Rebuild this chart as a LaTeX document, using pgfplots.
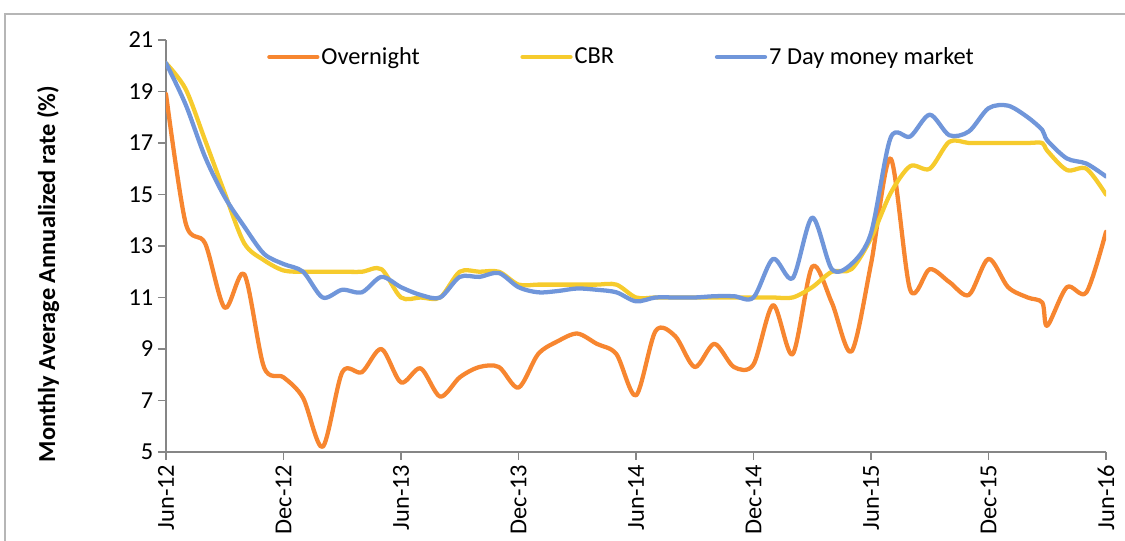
\documentclass[border=0pt]{standalone}
\usepackage{fontspec}
\setmainfont{Carlito}
\usepackage{pgfplots}
\pgfplotsset{compat=1.18}
\definecolor{onight}{RGB}{247,134,48}
\definecolor{cbr}{RGB}{246,203,45}
\definecolor{mm}{RGB}{112,150,218}
\definecolor{axgray}{RGB}{134,134,134}

% month index: 0 = Jun-12 ... 48 = Jun-16
\pgfplotstableread{
x y
0 18.9
1 13.9
2 13.1
3 10.6
4 11.9
5 8.3
6 7.9
7 7.1
8 5.2
9 8.1
10 8.1
11 9.0
12 7.7
13 8.25
14 7.15
15 7.9
16 8.3
17 8.3
18 7.5
19 8.8
20 9.3
21 9.6
22 9.2
23 8.8
24 7.2
25 9.7
26 9.5
27 8.3
28 9.2
29 8.3
30 8.4
31 10.7
32 8.8
33 12.2
34 10.8
35 8.9
36 12.3
37 16.4
38 11.3
39 12.1
40 11.6
41 11.1
42 12.5
43 11.4
44 11.0
44.75 10.8
45 9.9
46 11.4
47 11.2
48 13.55
}\overnight

\pgfplotstableread{
x y
0 20.1
1 19.1
2 17.1
3 15.05
4 13.1
5 12.45
6 12.05
7 12.0
8 12.0
9 12.0
10 12.0
11 12.1
12 11.0
13 11.0
14 11.0
15 12.0
16 12.0
17 12.0
18 11.5
19 11.5
20 11.5
21 11.5
22 11.5
23 11.5
24 11.0
25 11.0
26 11.0
27 11.0
28 11.0
29 11.0
30 11.0
31 11.0
32 11.0
33 11.4
34 12.0
35 12.1
36 13.3
37 15.05
38 16.1
39 16.0
40 17.05
41 17.0
42 17.0
43 17.0
44 17.0
44.75 17.0
45 16.7
46 15.95
47 16.0
48 15.0
}\cbrtab

\pgfplotstableread{
x y
0 20.1
1 18.5
2 16.45
3 14.9
4 13.75
5 12.7
6 12.3
7 12.0
8 11.0
9 11.3
10 11.2
11 11.8
12 11.4
13 11.1
14 11.0
15 11.8
16 11.8
17 11.95
18 11.4
19 11.2
20 11.25
21 11.35
22 11.3
23 11.2
24 10.85
25 11.0
26 11.0
27 11.0
28 11.05
29 11.05
30 11.0
31 12.5
32 11.75
33 14.1
34 12.1
35 12.3
36 13.5
37 17.2
38 17.25
39 18.1
40 17.3
41 17.45
42 18.35
43 18.45
44 18.0
44.75 17.5
45 17.1
46 16.4
47 16.2
48 15.7
}\mmtab

\begin{document}
\begin{tikzpicture}[x=1pt,y=1pt]
\useasboundingbox (-124.5,-66.75) rectangle (719.25,339);
\clip (-124.5,-66.75) rectangle (719.25,339);
\draw[axgray!60, line width=1pt] (-120.75,-120) rectangle (780,328.5);
\begin{axis}[
  at={(0,0)}, anchor=south west,
  scale only axis,
  width=705pt, height=309pt,
  xmin=0, xmax=48, ymin=5, ymax=21,
  axis x line=bottom, axis y line=left,
  axis line style={-, axgray, line width=1.2pt},
  every tick/.style={axgray, line width=1.2pt},
  tick align=outside, major tick length=6pt,
  xtick={0,6,...,48},
  xticklabels={Jun-12,Dec-12,Jun-13,Dec-13,Jun-14,Dec-14,Jun-15,Dec-15,Jun-16},
  ytick={5,7,...,21},
  /pgf/number format/assume math mode=true,
  tick label style={font=\fontsize{18.3}{21}\selectfont, black},
  x tick label style={rotate=90, anchor=east},
  ylabel={Monthly Average Annualized rate (\%)},
  ylabel style={font=\fontsize{18.3}{21}\selectfont\bfseries, at={(axis description cs:-0.1255,0.432)}, anchor=center},
  legend columns=3,
  legend style={at={(axis description cs:0.1074,0.9587)}, anchor=west,
    draw=none, fill=none, inner sep=0pt,
    font=\fontsize{18.3}{21}\selectfont,
    nodes={inner xsep=1.5pt, inner ysep=0pt},
    /tikz/every even column/.append style={column sep=74pt}},
  legend image code/.code={\draw[#1] (0pt,0pt) -- (36pt,0pt);},
  every axis plot/.append style={line width=3.2pt, line cap=round, line join=round, smooth},
]
\addplot[onight] table {\overnight};
\addlegendentry{Overnight}
\addplot[cbr] table {\cbrtab};
\addlegendentry{CBR}
\addplot[mm] table {\mmtab};
\addlegendentry{7 Day money market}
\end{axis}
\end{tikzpicture}
\end{document}
